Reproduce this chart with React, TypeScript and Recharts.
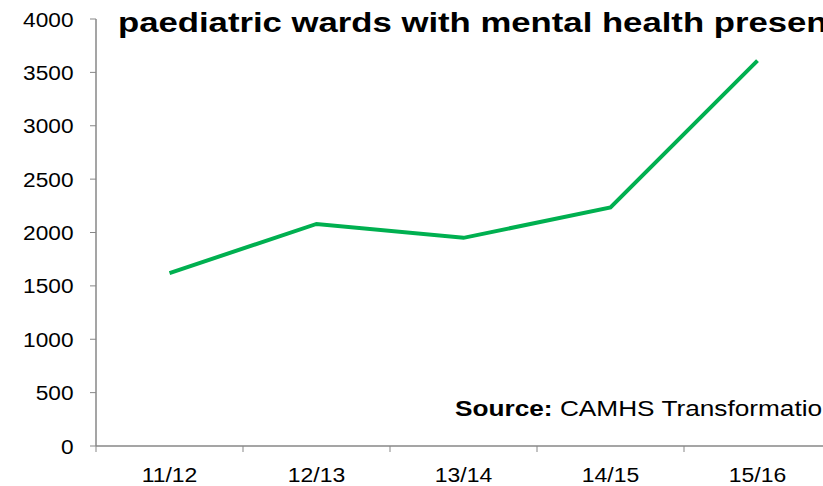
import { LineChart, Line, XAxis, YAxis } from 'recharts';

const years = ['11/12', '12/13', '13/14', '14/15', '15/16'];
const admissions = [1620, 2080, 1950, 2235, 3610];
const yTicks = [0, 500, 1000, 1500, 2000, 2500, 3000, 3500, 4000];

const titleText = 'paediatric wards with mental health presentations';
const sourceLabel = 'Source:';
const sourceText = ' CAMHS Transformation Plans';

const data = years.map((year, i) => ({ year, value: admissions[i] }));

const FONT = '"Liberation Sans", Arial, sans-serif';
const AXIS_GREY = '#878787';
const BAND = 147;

// the original text is a bit stretched sideways
function Stretched({ x, y, sx, anchor, size, weight, children }: any) {
  return (
    <text
      transform={`translate(${x},${y}) scale(${sx},1)`}
      textAnchor={anchor}
      fontSize={size}
      fontWeight={weight}
      fill="#000"
      fontFamily={FONT}
    >
      {children}
    </text>
  );
}

function YearTick(props: any) {
  const { x, y, payload, index } = props;
  const left = x - BAND / 2;
  return (
    <g>
      <line x1={left} y1={y} x2={left} y2={y + 6} stroke={AXIS_GREY} strokeWidth={1} />
      {index === years.length - 1 && (
        <line x1={x + BAND / 2} y1={y} x2={x + BAND / 2} y2={y + 6} stroke={AXIS_GREY} strokeWidth={1} />
      )}
      <Stretched x={x} y={y + 36} sx={1.12} anchor="middle" size={20.5}>
        {payload.value}
      </Stretched>
    </g>
  );
}

function ValueTick(props: any) {
  const { y, payload } = props;
  return (
    <Stretched x={73.5} y={y + 7.5} sx={1.08} anchor="end" size={21}>
      {payload.value}
    </Stretched>
  );
}

export default function App() {
  return (
    <div style={{ position: 'fixed', left: 0, top: 0, width: 823, height: 486, overflow: 'hidden', background: '#fff' }}>
      <LineChart width={840} height={486} data={data} margin={{ top: 19, right: 9, bottom: 0, left: 0 }}>
        <XAxis
          dataKey="year"
          scale="band"
          height={40}
          tickSize={0}
          tickMargin={0}
          tick={<YearTick />}
          axisLine={{ stroke: AXIS_GREY, strokeWidth: 1.5 }}
          tickLine={false}
          interval={0}
        />
        <YAxis
          width={96}
          domain={[0, 4000]}
          ticks={yTicks}
          interval={0}
          tickSize={6}
          axisLine={{ stroke: AXIS_GREY, strokeWidth: 1.5 }}
          tickLine={{ stroke: AXIS_GREY }}
          tick={<ValueTick />}
        />
        <Line
          type="linear"
          dataKey="value"
          stroke="#00B050"
          strokeWidth={4}
          dot={false}
          activeDot={false}
          isAnimationActive={false}
        />
      </LineChart>
      <svg width={823} height={486} style={{ position: 'absolute', left: 0, top: 0, pointerEvents: 'none' }}>
        <Stretched x={118} y={32} sx={1.24} size={28} weight="bold">
          {titleText}
        </Stretched>
        <Stretched x={455} y={415.5} sx={1.22} size={21.5}>
          <tspan fontWeight="bold">{sourceLabel}</tspan>
          <tspan>{sourceText}</tspan>
        </Stretched>
      </svg>
    </div>
  );
}
